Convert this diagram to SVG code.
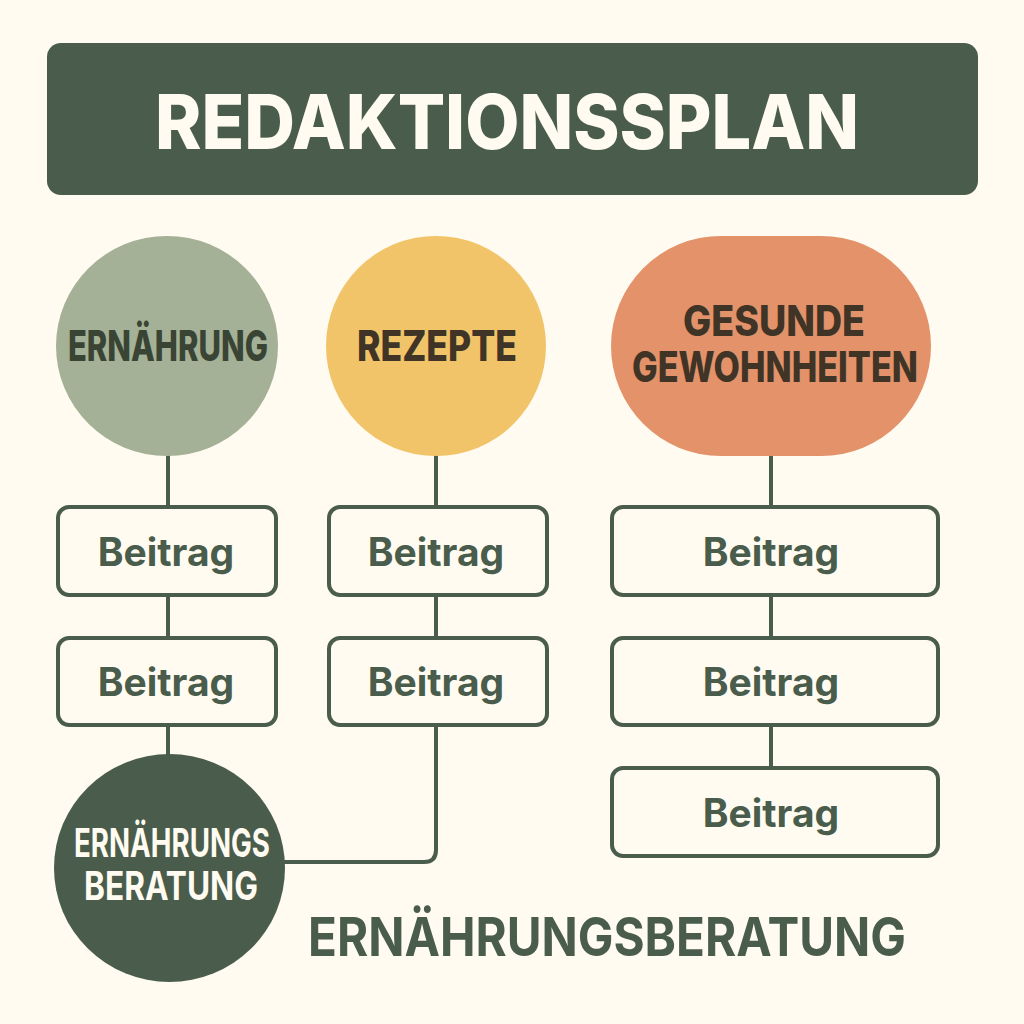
<svg xmlns="http://www.w3.org/2000/svg" width="1024" height="1024" viewBox="0 0 1024 1024">
<style>
text{font-family:"Inter","Liberation Sans",sans-serif;text-anchor:middle}
.box{fill:#fffbf0;stroke:#4a5d4c;stroke-width:4}
.lbl{font-size:39px;font-weight:700;fill:#4a5d4c}
.con{fill:none;stroke:#4a5d4c;stroke-width:4}
.dk{font-size:42px;font-weight:800;fill:#3f3426}
.wh{font-size:39px;font-weight:700;fill:#fffbf0}
</style>
<rect width="1024" height="1024" fill="#fffbf0"/>
<g id="connectors">
<path class="con" d="M168 450V510M168 590V640M168 722V760M436 450V510M436 590V640M771 450V510M771 590V640M771 722V770"/>
<path class="con" d="M436 722V850Q436 862 424 862H280"/>
</g>
<g id="title"><rect x="47" y="43" width="931" height="152" rx="14" fill="#4a5d4c"/><text x="507" y="149" font-size="76" font-weight="800" fill="#fffbf0" textLength="704" lengthAdjust="spacingAndGlyphs">REDAKTIONSSPLAN</text></g>
<g id="n-ernaehrung"><ellipse cx="167" cy="346" rx="111" ry="110" fill="#a4b196"/><text class="dk" x="168" y="361" style="fill:#3a4434" textLength="200" lengthAdjust="spacingAndGlyphs">ERNÄHRUNG</text></g>
<g id="n-rezepte"><circle cx="436" cy="346" r="110" fill="#f2c469"/><text class="dk" x="437" y="361" textLength="160" lengthAdjust="spacingAndGlyphs">REZEPTE</text></g>
<g id="n-gesunde"><rect x="611" y="236" width="320" height="220" rx="110" fill="#e3926a"/><text class="dk" x="774" y="336" textLength="182" lengthAdjust="spacingAndGlyphs">GESUNDE</text><text class="dk" x="775" y="382" textLength="286" lengthAdjust="spacingAndGlyphs">GEWOHNHEITEN</text></g>
<g id="b1"><rect class="box" x="58" y="507" width="218" height="88" rx="11"/><text class="lbl" x="166" y="566">Beitrag</text></g>
<g id="b2"><rect class="box" x="58" y="638" width="218" height="87" rx="11"/><text class="lbl" x="166" y="696">Beitrag</text></g>
<g id="b3"><rect class="box" x="329" y="507" width="218" height="88" rx="11"/><text class="lbl" x="436" y="566">Beitrag</text></g>
<g id="b4"><rect class="box" x="329" y="638" width="218" height="87" rx="11"/><text class="lbl" x="436" y="696">Beitrag</text></g>
<g id="b5"><rect class="box" x="612" y="507" width="326" height="88" rx="11"/><text class="lbl" x="771" y="566">Beitrag</text></g>
<g id="b6"><rect class="box" x="612" y="638" width="326" height="87" rx="11"/><text class="lbl" x="771" y="696">Beitrag</text></g>
<g id="b7"><rect class="box" x="612" y="768" width="326" height="88" rx="11"/><text class="lbl" x="771" y="827">Beitrag</text></g>
<g id="n-beratung"><ellipse cx="169.500" cy="868" rx="115.500" ry="114" fill="#4a5d4c"/><text class="wh" x="172" y="857" textLength="196" lengthAdjust="spacingAndGlyphs">ERNÄHRUNGS</text><text class="wh" x="171" y="900" textLength="174" lengthAdjust="spacingAndGlyphs">BERATUNG</text></g>
<g id="caption"><text x="607" y="956" font-size="54" font-weight="700" fill="#4a5d4c" textLength="598" lengthAdjust="spacingAndGlyphs">ERNÄHRUNGSBERATUNG</text></g>
</svg>
